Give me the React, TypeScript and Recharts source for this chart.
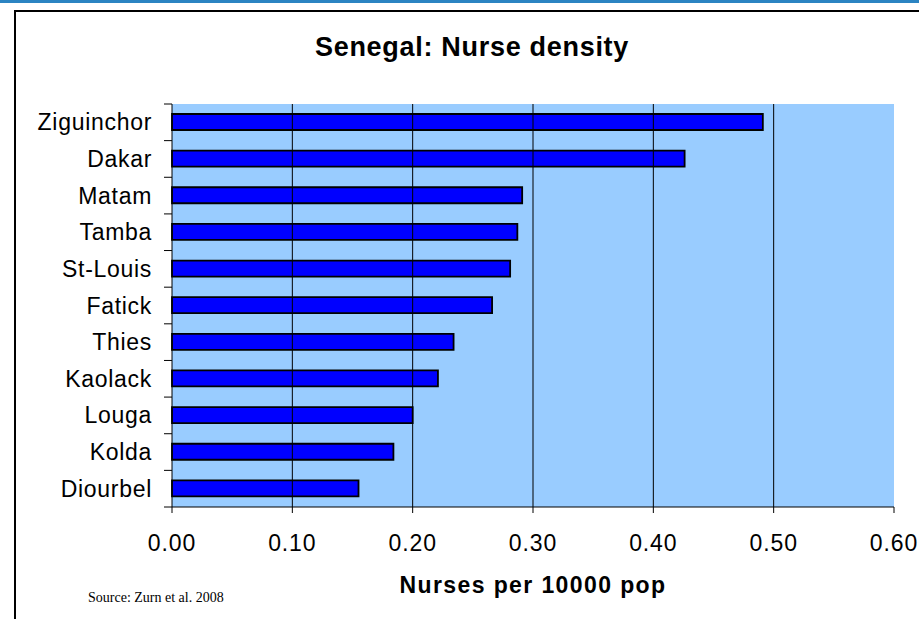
import React from 'react';
import { BarChart, Bar, XAxis, YAxis, CartesianGrid, ReferenceLine } from 'recharts';

const regions = ['Ziguinchor', 'Dakar', 'Matam', 'Tamba', 'St-Louis', 'Fatick', 'Thies', 'Kaolack', 'Louga', 'Kolda', 'Diourbel'];
const density = [0.491, 0.426, 0.291, 0.287, 0.281, 0.266, 0.234, 0.221, 0.2, 0.184, 0.155];
const xTicks = [0, 0.1, 0.2, 0.3, 0.4, 0.5, 0.6];
const gridValues = [0.1, 0.2, 0.3, 0.4, 0.5];

const W = 919;
const H = 619;
const MARGIN = { top: 104, right: 25, left: 0, bottom: 72 };
const X_AXIS_H = 40;
const FONT = '"Liberation Sans", Arial, sans-serif';

// Excel puts category ticks on the boundaries, not the centres
const bandHeight = (H - MARGIN.top - MARGIN.bottom - X_AXIS_H) / regions.length;

const chartData = regions.map((region, i) => ({ region, value: density[i] }));

const RegionTick = (props: any) => {
  const { x, y, payload, index } = props;
  const half = bandHeight / 2;
  return (
    <g>
      <text x={x - 20} y={y} dy="0.35em" textAnchor="end" fill="#000" fontSize={23} letterSpacing={0.7} fontFamily={FONT}>
        {payload.value}
      </text>
      <line x1={x - 8} x2={x} y1={y - half} y2={y - half} stroke="#000" />
      {index === regions.length - 1 && <line x1={x - 8} x2={x} y1={y + half} y2={y + half} stroke="#000" />}
    </g>
  );
};

export default function App() {
  return (
    <div style={{ position: 'absolute', left: 0, top: 0, width: W, height: H, background: '#fff', overflow: 'hidden' }}>
      <div style={{ position: 'absolute', left: 0, top: 0, width: W, height: 3, background: '#2b84c2' }} />
      <div style={{ position: 'absolute', left: 14, top: 10, width: W, height: H, borderLeft: '2px solid #000', borderTop: '2px solid #000' }} />
      <div
        style={{
          position: 'absolute', left: 0, width: 944, top: 32, textAlign: 'center',
          fontFamily: FONT, fontWeight: 'bold', fontSize: 27, letterSpacing: 0.7, color: '#000',
        }}
      >
        Senegal: Nurse density
      </div>
      <div style={{ position: 'absolute', left: 88, top: 590, fontFamily: '"Liberation Serif", "Times New Roman", serif', fontSize: 14, color: '#000' }}>
        Source: Zurn et al. 2008
      </div>
      <div style={{ position: 'absolute', left: 0, top: 0 }}>
        <BarChart width={W} height={H} data={chartData} layout="vertical" margin={MARGIN} barSize={16}>
          <CartesianGrid horizontal={false} vertical={false} fill="#99ccff" />
          <XAxis
            type="number"
            domain={[0, 0.6]}
            ticks={xTicks}
            tickFormatter={(v: number) => v.toFixed(2)}
            height={X_AXIS_H}
            stroke="#000"
            tickSize={6}
            tickMargin={22}
            tick={{ fill: '#000', fontSize: 23, letterSpacing: 0.9, fontFamily: FONT }}
            label={{ value: 'Nurses per 10000 pop', position: 'bottom', offset: 30, fill: '#000', fontSize: 23, fontWeight: 'bold', letterSpacing: 1.4, fontFamily: FONT }}
          />
          <XAxis xAxisId="top" type="number" domain={[0, 0.6]} orientation="top" height={0} tick={false} tickLine={false} stroke="#808080" />
          <YAxis type="category" dataKey="region" width={172} stroke="#000" tickLine={false} tickSize={0} tickMargin={0} tick={<RegionTick />} interval={0} />
          <YAxis yAxisId="right" type="category" dataKey="region" orientation="right" width={0} tick={false} tickLine={false} stroke="#808080" />
          {gridValues.map((v) => (
            <ReferenceLine key={v} x={v} stroke="#000" />
          ))}
          <Bar dataKey="value" fill="#0000ff" stroke="#000" strokeWidth={1.8} isAnimationActive={false} />
        </BarChart>
      </div>
    </div>
  );
}
